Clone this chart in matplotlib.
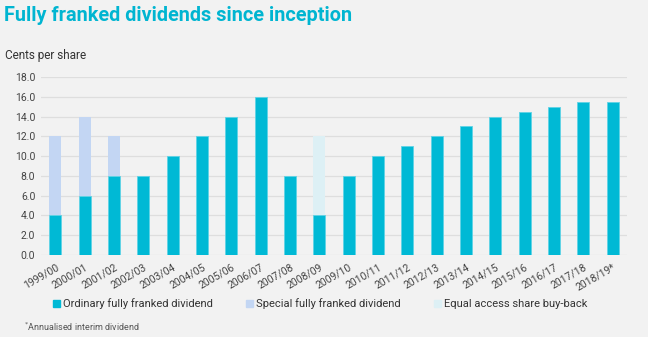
import numpy as np
import matplotlib.pyplot as plt
from matplotlib.patches import Patch

plt.rcParams['font.family'] = ['Roboto', 'DejaVu Sans']

years = ['1999/00', '2000/01', '2001/02', '2002/03', '2003/04', '2004/05', '2005/06',
         '2006/07', '2007/08', '2008/09', '2009/10', '2010/11', '2011/12', '2012/13',
         '2013/14', '2014/15', '2015/16', '2016/17', '2017/18', '2018/19*']
ordinary = [4, 6, 8, 8, 10, 12, 14, 16, 8, 4, 8, 10, 11, 12, 13, 14, 14.5, 15, 15.5, 15.5]
special = [8, 8, 4, 0, 0, 0, 0, 0, 0, 0, 0, 0, 0, 0, 0, 0, 0, 0, 0, 0]
buyback = [0, 0, 0, 0, 0, 0, 0, 0, 0, 8, 0, 0, 0, 0, 0, 0, 0, 0, 0, 0]

c_ord = '#00b9d5'
c_spec = '#c3d6f3'
c_buy = '#ddf0f5'
bg = '#f2f2f2'

fig = plt.figure(figsize=(6.48, 3.37), dpi=100, facecolor=bg)
ax = fig.add_axes([0.063, 0.2433, 0.905, 0.5282])
ax.set_facecolor(bg)

x = np.arange(len(years))
ordinary = np.array(ordinary)
special = np.array(special)
buyback = np.array(buyback)
w = 0.41
ax.bar(x, ordinary, w, color=c_ord, edgecolor='#5fd3e6', linewidth=0.6, zorder=3)
ax.bar(x, special, w, bottom=ordinary, color=c_spec, zorder=3)
ax.bar(x, buyback, w, bottom=ordinary + special, color=c_buy, zorder=3)

ax.set_xlim(-0.5, len(years) - 0.5)
ax.set_ylim(0, 18)
ax.set_yticks(np.arange(0, 18.1, 2))
ax.set_yticklabels([f'{v:.1f}' for v in np.arange(0, 18.1, 2)])
ax.yaxis.grid(True, color='#dedede', linewidth=0.9, zorder=0)
ax.set_axisbelow(True)
for s in ax.spines.values():
    s.set_visible(False)
ax.tick_params(axis='both', length=0, labelsize=7.5, colors='#444444', pad=4)
ax.set_xticks(x)
ax.set_xticklabels(years, rotation=30, ha='right', rotation_mode='anchor')
ax.tick_params(axis='x', pad=5)

fig.text(0.006, 0.955, 'Fully franked dividends since inception', fontsize=14.3,
         fontweight='bold', color='#00b5d1', va='center')
fig.text(0.008, 0.835, 'Cents per share', fontsize=8.5, color='#333333', va='center')

handles = [Patch(color=c_ord), Patch(color=c_spec), Patch(color=c_buy)]
labels = ['Ordinary fully franked dividend', 'Special fully franked dividend',
          'Equal access share buy-back']
fig.legend(handles, labels, loc='center left', bbox_to_anchor=(0.0815, 0.098), ncol=3,
           frameon=False, fontsize=8, handlelength=0.65, handleheight=0.65,
           handletextpad=0.25, columnspacing=3.0, labelcolor='#333333',
           borderaxespad=0, borderpad=0)

fig.text(0.037, 0.03, '$^{*}$Annualised interim dividend', fontsize=6.5, color='#555555',
         va='center')

fig.savefig('out.png', dpi=100, facecolor=bg)
